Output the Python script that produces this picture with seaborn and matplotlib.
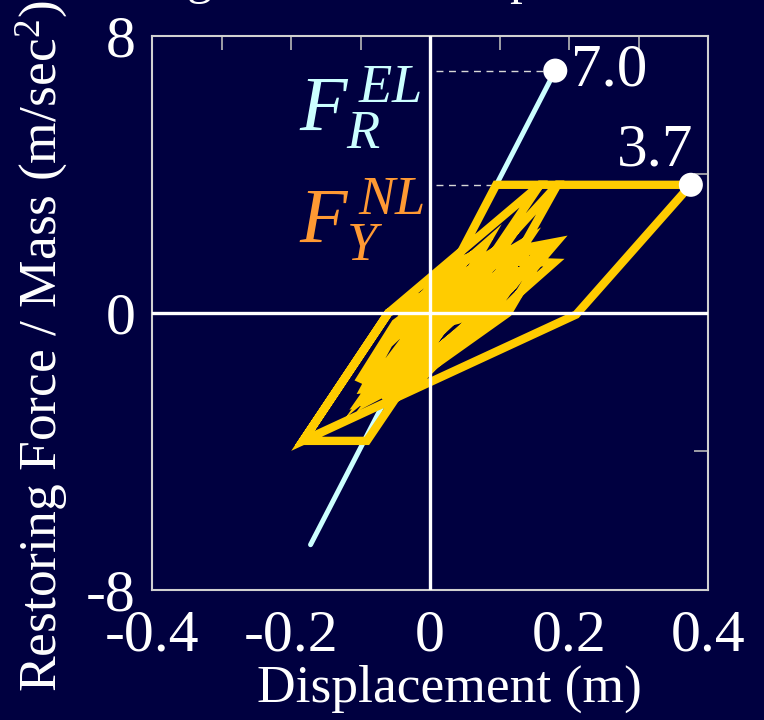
import matplotlib
matplotlib.use("Agg")
import matplotlib.pyplot as plt
import seaborn as sns
from matplotlib.ticker import FixedLocator

# ---------------- data ----------------
# elastic restoring force line F_R^EL
el_x = [-0.172, 0.180]
el_y = [-6.70, 7.00]

# nonlinear (yielding) hysteresis trace F_Y^NL, in time order
hyst_x = [0.000, 0.020, -0.015, 0.035, -0.030, 0.095, 0.158, -0.091, -0.183,
          -0.060, 0.158, 0.183, 0.080,
          -0.010, -0.100, -0.060, 0.000, 0.090, 0.182, 0.150, 0.112, 0.000,
          -0.085, -0.040, 0.020, 0.100, 0.178, 0.130, 0.095, -0.030, -0.095,
          -0.060, 0.030, 0.140, 0.100, 0.070, -0.050, -0.100, -0.050, 0.050,
          0.160, 0.120, 0.060, -0.070, -0.040, 0.010, 0.060, 0.120, 0.100,
          0.040, -0.020, -0.080, -0.055, 0.000, 0.080, 0.060, 0.020, -0.030,
          -0.075, -0.045, -0.020, 0.030, 0.070, 0.110, 0.080, 0.050, 0.000,
          -0.045, -0.090, -0.065, -0.030, 0.010, 0.045, 0.090, 0.150, 0.105,
          0.075, 0.030, -0.015, -0.060, -0.020, 0.005, 0.035, 0.075, 0.130,
          0.085, 0.045, 0.000, -0.045, -0.010, 0.015, 0.050, 0.090, 0.060,
          0.020, 0.055, 0.020, -0.010, -0.040, 0.000, 0.040, 0.100, 0.145,
          0.115, 0.080, 0.125, 0.095, 0.060, 0.105, 0.070, 0.040, 0.000,
          -0.030,
          0.183, 0.375, 0.210, -0.183, -0.060,
          0.030, -0.040, 0.020, -0.020, 0.000]
hyst_y = [0.00, 0.75, -0.55, 1.30, -1.10, 3.70, 3.70, -3.70, -3.70,
          0.00, 3.70, 3.70, 0.00,
          -1.85, -2.55, -1.40, 0.20, 1.70, 2.05, 1.30, 0.00, -1.60,
          -2.50, -1.30, 0.30, 1.50, 1.45, 0.60, -0.10, -2.05, -2.20,
          -0.90, 0.80, 2.10, 0.90, 0.00, -2.35, -1.90, -0.30, 1.20,
          1.90, 0.80, -0.20, -2.45, -1.80, -0.30, 1.00, 1.80, 1.20,
          0.00, -1.10, -1.60, -0.50, 0.60, 2.00, 1.30, 0.20, -1.00,
          -2.10, -1.20, -0.40, 0.60, 1.50, 2.00, 1.10, 0.40, -0.80,
          -1.60, -2.35, -1.65, -0.70, 0.40, 1.00, 1.40, 1.55, 0.50,
          -0.30, -1.00, -1.40, -2.00, -0.90, -0.10, 0.30, 0.70, 1.10,
          0.30, -0.50, -1.20, -2.00, -1.20, -0.55, 0.10, 0.50, 0.70,
          0.90, 1.60, 1.20, 0.50, 0.00, -0.40, -0.20, 0.30, 1.60,
          0.70, 0.10, 1.35, 0.55, 0.30, 1.00, 0.80, 0.40, -0.30,
          -1.00,
          3.70, 3.70, -0.05, -3.70, 0.00,
          0.90, -0.80, 0.50, -0.30, 0.00]

# peak points marked with dots
peak_x = [0.180, 0.375]
peak_y = [7.0, 3.7]
yield_x = 0.095          # first yield displacement (start of the plateau)

x_ticks = [-0.4, -0.2, 0.0, 0.2, 0.4]
x_tick_labels = ["-0.4", "-0.2", "0", "0.2", "0.4"]
x_minor = [-0.3, -0.1, 0.1, 0.3]
y_ticks = [-8, 0, 8]
y_tick_labels = ["-8", "0", "8"]
y_minor = [-4, 4]

title_text = "Large Inelastic Response"
x_label = "Displacement (m)"
y_label = "Restoring Force / Mass (m/sec$^2$)"

# ---------------- style ----------------
BG = "#000040"
YELLOW = "#ffcc00"
CYAN = "#ccffff"
ORANGE = "#ff9933"

sns.set_style("dark")
plt.rcParams["font.family"] = ["Liberation Serif", "DejaVu Serif"]
plt.rcParams["mathtext.fontset"] = "custom"
plt.rcParams["mathtext.rm"] = "Liberation Serif"
plt.rcParams["mathtext.it"] = "Liberation Serif:italic"
plt.rcParams["mathtext.bf"] = "Liberation Serif:bold"
plt.rcParams["axes.unicode_minus"] = False

fig = plt.figure(figsize=(7.64, 7.2), dpi=100)
fig.patch.set_facecolor(BG)
ax = fig.add_axes([0.199, 0.181, 0.728, 0.769])
ax.set_facecolor(BG)

# elastic line
sns.lineplot(x=el_x, y=el_y, ax=ax, color=CYAN, linewidth=3.6,
             sort=False, estimator=None, zorder=2)
# hysteresis
sns.lineplot(x=hyst_x, y=hyst_y, ax=ax, color=YELLOW, linewidth=6.0,
             sort=False, estimator=None, zorder=3,
             solid_joinstyle="miter", solid_capstyle="butt")

# zero axes
ax.axhline(0, color="white", linewidth=2.4, zorder=4)
ax.axvline(0, color="white", linewidth=2.4, zorder=4)

# dashed guide lines to the peaks
ax.plot([0.008, peak_x[0] - 0.012], [peak_y[0], peak_y[0]], color="#d8d8d8",
        linewidth=1.0, linestyle=(0, (5, 4)), zorder=2)
ax.plot([0.008, yield_x], [peak_y[1], peak_y[1]], color="#d8d8d8",
        linewidth=1.0, linestyle=(0, (5, 4)), zorder=2)

# peak dots
sns.scatterplot(x=peak_x, y=peak_y, ax=ax, color="white", s=300,
                edgecolor="none", zorder=6, legend=False)

# value labels
ax.text(peak_x[0] + 0.022, peak_y[0], f"{peak_y[0]:.1f}", color="white",
        fontsize=44, ha="left", va="center", zorder=7)
ax.text(peak_x[1] + 0.004, peak_y[1] + 0.55, f"{peak_y[1]:.1f}", color="white",
        fontsize=44, ha="right", va="baseline", zorder=7)

# series labels
ax.text(-0.012, 5.3, r"$F_R^{\,EL}$", color=CYAN, fontsize=56,
        ha="right", va="baseline", zorder=7)
ax.text(-0.008, 2.05, r"$F_Y^{\,NL}$", color=ORANGE, fontsize=56,
        ha="right", va="baseline", zorder=7)

# axes limits / ticks
ax.set_xlim(-0.4, 0.4)
ax.set_ylim(-8, 8)
ax.xaxis.set_major_locator(FixedLocator(x_ticks))
ax.set_xticklabels(x_tick_labels)
ax.xaxis.set_minor_locator(FixedLocator(x_minor))
ax.yaxis.set_major_locator(FixedLocator(y_ticks))
ax.set_yticklabels(y_tick_labels)
ax.yaxis.set_minor_locator(FixedLocator(y_minor))
ax.grid(False)
ax.tick_params(which="both", direction="in", top=True, right=True,
               length=10, width=1.2, color="#b8b8b8")
ax.tick_params(which="major", labelcolor="white", labelsize=43)
ax.tick_params(axis="y", which="major", pad=12)
ax.tick_params(axis="x", which="major", pad=14)
for s in ax.spines.values():
    s.set_visible(True)
    s.set_color("#d0d0d0")
    s.set_linewidth(1.5)

ax.set_xlabel(x_label, color="white", fontsize=38.5, va="center")
ax.xaxis.set_label_coords(0.534, -0.18)
ax.set_ylabel(y_label, color="white", fontsize=38.5, va="center")
ax.yaxis.set_label_coords(-0.198, 0.44)

# title cut off at the top of the slide
fig.text(0.488, 1.0097, title_text, color="white", fontsize=36.7,
         ha="center", va="baseline")

fig.savefig("out.png", dpi=100, facecolor=BG)
